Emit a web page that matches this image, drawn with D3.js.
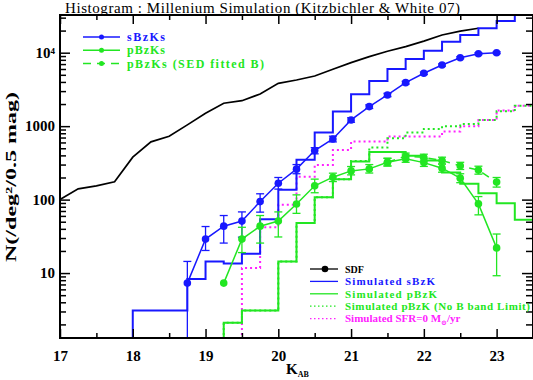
<!DOCTYPE html>
<html><head><meta charset="utf-8">
<script src="https://cdn.jsdelivr.net/npm/d3@7"></script>
<style>body{margin:0;background:#fff} text{font-family:"Liberation Serif","DejaVu Serif",serif}</style>
</head><body><svg id="c" width="533" height="380"></svg>
<script>
// ---------- data ----------
const binWidth = 0.25;
// SDF observed counts (black line)
const sdfMag = [17.0,17.25,17.5,17.75,18.0,18.25,18.5,18.75,19.0,19.25,19.5,19.75,20.0,20.25,20.5,20.75,21.0,21.25,21.5,21.75,22.0,22.25,22.5,22.75];
const sdfN   = [100,140,154,175,378,611,730,1040,1500,2050,2220,2740,3830,4250,4820,5940,7320,8830,10450,12100,14400,17400,19700,21500];
// Simulated sBzK histogram (blue)
const simSEdges = [18.0,18.25,18.5,18.75,19.0,19.25,19.5,19.75,20.0,20.25,20.5,20.75,21.0,21.25,21.5,21.75,22.0,22.25,22.5,22.75,23.0,23.25];
const simSN     = [3.1,3.1,3.1,8.3,14.4,13.5,18.3,54,136,348,817,1578,2716,4120,5990,8200,10650,14100,17400,21500,27000,40000];
// Simulated pBzK histogram (green solid)
const simPEdges = [19.25,19.5,19.75,20.0,20.25,20.5,20.75,21.0,21.25,21.5,21.75,22.0,22.25,22.5,22.75,23.0,23.25,23.5];
const simPN     = [2.1,3.1,3.1,14.4,48,108,190,330,445,445,394,340,233,164,122,89.5,53,10];
// Simulated pBzK, no B band limit (green dotted)
const simPNoBEdges = [19.25,19.5,19.75,20.0,20.25,20.5,20.75,21.0,21.25,21.5,21.75,22.0,22.25,22.5,22.75,23.0,23.25];
const simPNoBN     = [2.1,3.1,3.1,14.4,48,108,190,336,511,686,817,917,1000,1070,1215,1600,1900];
// Simulated SFR=0 (magenta dotted)
const sfr0Edges = [19.5,19.75,20.0,20.25,20.5,20.75,21.0,21.25,21.5,21.75,22.0,22.25,22.5,22.75,23.0,23.25];
const sfr0N     = [11.7,42,85,205,297,475,617,617,721,721,721,843,1000,1215,1630,1900];
// sBzKs (blue points)
const sMag = [18.75,19.0,19.25,19.5,19.75,20.0,20.25,20.5,20.75,21.0,21.25,21.5,21.75,22.0,22.25,22.5,22.75,23.0];
const sN   = [7.3,29,43.5,51,94,167,260,465,670,1215,1845,2660,3910,5250,6800,8550,9680,10000];
const sHi  = [14.4,43,60.7,68,120,200,300,510,730,1300,1950,2800,4080,5450,7030,8800,9950,10280];
const sLo  = [0.5,20.3,25.6,30.8,67.5,139,225,420,610,1130,1740,2520,3740,5050,6570,8300,9410,9720];
// pBzKs (green points, solid)
const pMag = [19.25,19.5,19.75,20.0,20.25,20.5,20.75,21.0,21.25,21.5,21.75,22.0,22.25,22.5,22.75,23.0];
const pN   = [7.3,29,43.5,51,87,154,202,246,262,323,360,319,268,196,87.5,22];
const pHi  = [7.3,42,60.7,68,116,190,229,282,300,365,405,360,305,225,110,34];
const pLo  = [7.3,19,25.6,31,65,124,176,217,230,287,322,283,236,170,62,9.2];
// pBzKs SED fitted B (green points, dashed)
const pbMag = [21.5,21.75,22.0,22.25,22.5,22.75,23.0];
const pbN   = [323,390,375,340,288,252,173];
const pbHi  = [365,430,415,378,322,285,200];
const pbLo  = [287,352,337,305,257,222,148];
// axis ticks
const xMajor = [17,18,19,20,21,22,23];
const xMinor = [17.5,18.5,19.5,20.5,21.5,22.5,23.5];
const yMajor = [10,100,1000,10000];
const yLabels = ["10","100","1000","10⁴"];

// ---------- drawing ----------
const BLUE="#1818ff", GREEN="#22e622", MAG="#ff22ff";
const svg = d3.select("#c");
const L=60, R=533, T=15, B=338;
const x = d3.scaleLinear().domain([17,23.5]).range([L,R]);
const y = d3.scaleLog().domain([1.306,32600]).range([B,T]);

svg.append("clipPath").attr("id","clip").append("rect")
  .attr("x",L).attr("y",T).attr("width",R-L).attr("height",B-T);
const g = svg.append("g").attr("clip-path","url(#clip)");

const line = d3.line().x(d=>x(d[0])).y(d=>y(d[1]));
function steps(edges, vals){
  const floor = 0.3;
  const pts=[[edges[0],floor]];
  edges.forEach((e,i)=>{
    const e2 = i<edges.length-1 ? edges[i+1] : e+binWidth;
    pts.push([e,vals[i]]); pts.push([e2,vals[i]]);
  });
  pts.push([pts[pts.length-1][0],floor]);
  return pts;
}
// SDF
g.append("path").attr("d",line(sdfMag.map((m,i)=>[m,sdfN[i]])))
  .attr("fill","none").attr("stroke","#000").attr("stroke-width",1.7);
// dotted histograms
g.append("path").attr("d",line(steps(sfr0Edges,sfr0N)))
  .attr("fill","none").attr("stroke",MAG).attr("stroke-width",2).attr("stroke-dasharray","2,3");
g.append("path").attr("d",line(steps(simPNoBEdges,simPNoBN)))
  .attr("fill","none").attr("stroke",GREEN).attr("stroke-width",2).attr("stroke-dasharray","2,3");
// solid histograms
g.append("path").attr("d",line(steps(simPEdges,simPN)))
  .attr("fill","none").attr("stroke",GREEN).attr("stroke-width",2);
g.append("path").attr("d",line(steps(simSEdges,simSN)))
  .attr("fill","none").attr("stroke",BLUE).attr("stroke-width",2);

function points(mag,N,hi,lo,color,dash){
  const pl = g.append("path").attr("d",line(mag.map((m,i)=>[m,N[i]])))
    .attr("fill","none").attr("stroke",color).attr("stroke-width",1.5);
  if(dash) pl.attr("stroke-dasharray",dash);
  mag.forEach((m,i)=>{
    if(hi[i]>N[i]){
      const cx=x(m), y1=y(hi[i]), y2=y(Math.max(lo[i],0.5));
      g.append("line").attr("x1",cx).attr("x2",cx).attr("y1",y1).attr("y2",y2).attr("stroke",color).attr("stroke-width",1.3);
      g.append("line").attr("x1",cx-4).attr("x2",cx+4).attr("y1",y1).attr("y2",y1).attr("stroke",color).attr("stroke-width",1.3);
      g.append("line").attr("x1",cx-4).attr("x2",cx+4).attr("y1",y2).attr("y2",y2).attr("stroke",color).attr("stroke-width",1.3);
    }
    g.append("circle").attr("cx",x(m)).attr("cy",y(N[i])).attr("r",3.8).attr("fill",color);
  });
}
points(sMag,sN,sHi,sLo,BLUE);
points(pMag,pN,pHi,pLo,GREEN);
points(pbMag,pbN,pbHi,pbLo,GREEN,"8,6");

// frame
svg.append("rect").attr("x",L).attr("y",T).attr("width",R-L).attr("height",B-T)
  .attr("fill","none").attr("stroke","#000").attr("stroke-width",2);

function styleAxis(sel){ sel.select(".domain").remove(); sel.selectAll(".tick line").attr("stroke","#000").attr("stroke-width",1.5); }
// x axes
const xb = svg.append("g").attr("transform",`translate(0,${B})`)
  .call(d3.axisBottom(x).tickValues(xMajor).tickSizeInner(-9).tickSizeOuter(0).tickPadding(12).tickFormat(d3.format("d")));
styleAxis(xb);
xb.selectAll("text").attr("font-size",15).attr("font-weight","bold").attr("fill","#000").attr("font-family","Liberation Serif");
const xbm = svg.append("g").attr("transform",`translate(0,${B})`)
  .call(d3.axisBottom(x).tickValues(xMinor).tickSizeInner(-5).tickSizeOuter(0).tickFormat(""));
styleAxis(xbm);
const xt = svg.append("g").attr("transform",`translate(0,${T})`)
  .call(d3.axisTop(x).tickValues(xMajor).tickSizeInner(-9).tickSizeOuter(0).tickFormat(""));
styleAxis(xt);
const xtm = svg.append("g").attr("transform",`translate(0,${T})`)
  .call(d3.axisTop(x).tickValues(xMinor).tickSizeInner(-5).tickSizeOuter(0).tickFormat(""));
styleAxis(xtm);
// y axes
const yMinor=[];
[1,10,100,1000,10000].forEach(d=>{for(let k=2;k<=9;k++){const v=d*k; if(v>1.306&&v<32600) yMinor.push(v);}});
const yl = svg.append("g").attr("transform",`translate(${L},0)`)
  .call(d3.axisLeft(y).tickValues(yMajor).tickSizeInner(-10).tickSizeOuter(0).tickPadding(5).tickFormat((d,i)=>yLabels[i]));
styleAxis(yl);
yl.selectAll("text").attr("font-size",15).attr("font-weight","bold").attr("fill","#000").attr("font-family","Liberation Serif");
const ylm = svg.append("g").attr("transform",`translate(${L},0)`)
  .call(d3.axisLeft(y).tickValues(yMinor).tickSizeInner(-6).tickSizeOuter(0).tickFormat(""));
styleAxis(ylm);
const yr = svg.append("g").attr("transform",`translate(${R-1},0)`)
  .call(d3.axisRight(y).tickValues(yMajor).tickSizeInner(-10).tickSizeOuter(0).tickFormat(""));
styleAxis(yr);
const yrm = svg.append("g").attr("transform",`translate(${R-1},0)`)
  .call(d3.axisRight(y).tickValues(yMinor).tickSizeInner(-6).tickSizeOuter(0).tickFormat(""));
styleAxis(yrm);

// title & labels
svg.append("text").attr("x",65).attr("y",13).attr("font-size",15)
  .attr("textLength",395).attr("lengthAdjust","spacing")
  .text("Histogram : Millenium Simulation (Kitzbichler & White 07)");
const xl = svg.append("text").attr("x",286).attr("y",374).attr("font-size",15).attr("font-weight","bold");
xl.append("tspan").text("K");
xl.append("tspan").attr("font-size",8).attr("dy",3).text("AB");
svg.append("text").attr("transform","translate(16,177) rotate(-90)").attr("text-anchor","middle")
  .attr("font-size",15).attr("font-weight","bold").attr("font-family","DejaVu Serif")
  .attr("textLength",170).attr("lengthAdjust","spacingAndGlyphs")
  .text("N(/deg²/0.5 mag)");

// top-left legend
const leg1 = [
  {t:"sBzKs", c:BLUE, dash:null, w:38},
  {t:"pBzKs", c:GREEN, dash:null, w:38},
  {t:"pBzKs (SED fitted B)", c:GREEN, dash:"8,6", w:137}
];
leg1.forEach((d,i)=>{
  const yy = 37 + i*13.3;
  const ln = svg.append("line").attr("x1",83).attr("x2",120).attr("y1",yy).attr("y2",yy).attr("stroke",d.c).attr("stroke-width",1.5);
  if(d.dash) ln.attr("stroke-dasharray",d.dash);
  svg.append("circle").attr("cx",101.5).attr("cy",yy).attr("r",2.5).attr("fill",d.c);
  svg.append("text").attr("x",127).attr("y",yy+4).attr("font-size",12).attr("font-weight","bold")
    .attr("fill",d.c).attr("textLength",d.w).attr("lengthAdjust","spacing").text(d.t);
});
// bottom-right legend
const leg2 = [
  {t:"SDF", c:"#000", dash:null, dot:true, w:null},
  {t:"Simulated sBzK", c:BLUE, dash:null, w:90},
  {t:"Simulated pBzK", c:GREEN, dash:null, w:92},
  {t:"Simulated pBzK (No B band Limit)", c:GREEN, dash:"1.5,2.5", w:185},
  {t:"SFR", c:MAG, dash:"1.5,2.5", w:null}
];
leg2.forEach((d,i)=>{
  const yy = 269 + i*12.4;
  const ln = svg.append("line").attr("x1",310).attr("x2",338).attr("y1",yy).attr("y2",yy).attr("stroke",d.c).attr("stroke-width",1.3);
  if(d.dash) ln.attr("stroke-dasharray",d.dash);
  if(d.dot) svg.append("circle").attr("cx",325).attr("cy",yy).attr("r",3.3).attr("fill",d.c);
  const tx = svg.append("text").attr("x",345).attr("y",yy+3.8).attr("font-size",11).attr("font-weight","bold").attr("fill",d.c);
  if(d.t==="SFR"){
    tx.append("tspan").text("Simulated SFR=0 M");
    tx.append("tspan").attr("font-size",7).attr("dy",2.5).text("⊙");
    tx.append("tspan").attr("dy",-2.5).text("/yr");
  } else if(d.w) {
    tx.attr("textLength",d.w).attr("lengthAdjust","spacing").text(d.t);
  } else {
    tx.attr("font-size",10).text(d.t);
  }
});
</script></body></html>
